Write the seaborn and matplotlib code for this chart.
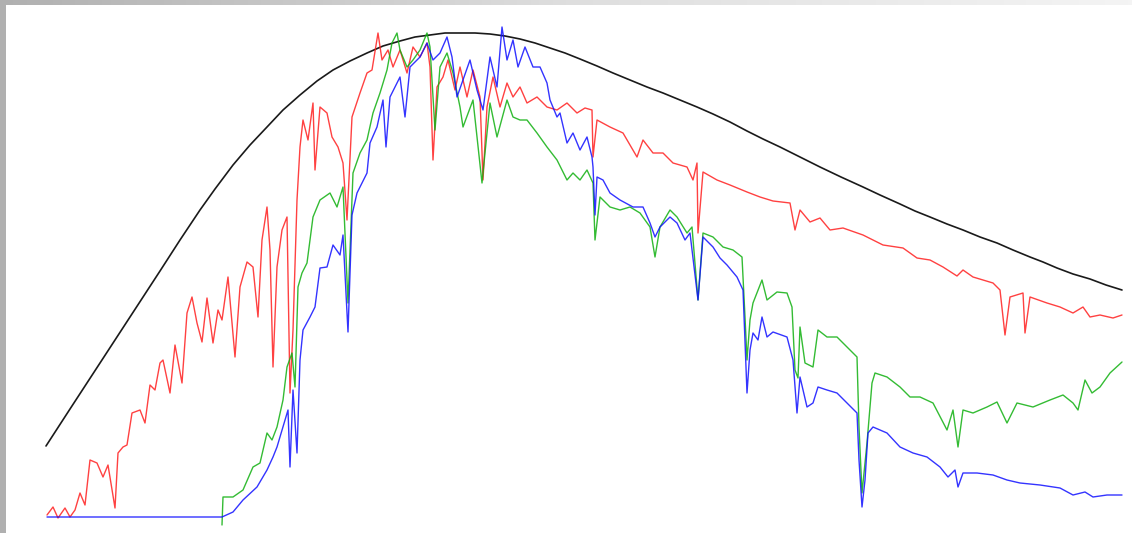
# Spectra vs. a smooth reference curve (black) - red, green and blue channels
import numpy as np
import pandas as pd
import matplotlib.pyplot as plt
import seaborn as sns
from matplotlib.colors import LinearSegmentedColormap

#%%
# Values (channel, intensity)
ref_x = [46, 70, 100, 130, 160, 180, 200, 215, 233, 250, 267, 283, 300, 317, 333, 350,
         367, 383, 400, 415, 430, 445, 460, 475, 490, 505, 520, 535, 550, 565, 580, 597,
         613, 630, 647, 663, 680, 697, 713, 730, 747, 763, 780, 800, 820, 841, 863, 880,
         900, 915, 930, 947, 963, 980, 997, 1013, 1030, 1043, 1057, 1073, 1090, 1106, 1122]
ref_y = [71, 108, 154, 200, 246, 277, 307, 328, 352, 372, 390, 407, 422, 436, 447, 456,
         464, 471, 476, 480, 482, 484, 484, 484, 483, 481, 478, 474, 469, 464, 458, 451,
         444, 437, 430, 424, 417, 410, 403, 395, 386, 378, 370, 360, 350, 340, 330, 322,
         313, 306, 300, 293, 287, 280, 274, 267, 260, 255, 249, 243, 238, 232, 227]

red_x = [47, 53, 58, 65, 70, 75, 80, 85, 90, 97, 103, 108, 115, 118, 123, 127, 132, 140,
         145, 150, 155, 160, 163, 170, 175, 182, 187, 192, 197, 202, 207, 213, 218, 222,
         228, 235, 240, 247, 253, 258, 262, 267, 270, 273, 277, 282, 287, 290, 293, 297,
         300, 303, 308, 313, 315, 320, 327, 332, 338, 343, 347, 352, 360, 367, 372, 378,
         382, 388, 393, 400, 407, 413, 420, 427, 430, 433, 437, 443, 448, 455, 460, 467,
         473, 480, 483, 487, 493, 500, 507, 513, 520, 527, 537, 547, 557, 567, 577, 585,
         592, 593, 597, 610, 623, 637, 643, 653, 663, 673, 687, 693, 697, 698, 703, 717,
         730, 747, 760, 773, 790, 795, 800, 810, 820, 830, 843, 863, 883, 903, 917, 930,
         943, 957, 963, 973, 993, 1000, 1005, 1010, 1023, 1025, 1030, 1047, 1060, 1073,
         1083, 1090, 1100, 1113, 1122]
red_y = [2, 10, -1, 9, 0, 7, 24, 12, 57, 54, 40, 52, 9, 64, 70, 72, 104, 107,
         94, 132, 127, 154, 157, 124, 172, 134, 204, 220, 194, 175, 219, 174, 207, 197,
         240, 160, 230, 255, 250, 200, 277, 310, 267, 150, 250, 287, 300, 124, 187, 317,
         370, 397, 377, 414, 347, 410, 404, 380, 370, 354, 297, 400, 424, 444, 447, 484,
         457, 467, 450, 467, 444, 470, 460, 474, 450, 357, 430, 440, 457, 427, 450, 420,
         447, 420, 337, 410, 440, 410, 434, 420, 430, 414, 420, 410, 407, 414, 404, 409,
         407, 360, 397, 390, 384, 360, 377, 364, 364, 354, 350, 337, 354, 284, 345, 337,
         332, 325, 320, 316, 314, 287, 307, 295, 299, 287, 289, 282, 272, 269, 259, 257,
         250, 241, 247, 240, 234, 227, 182, 220, 224, 184, 220, 214, 210, 204,
         210, 200, 202, 199, 202]

green_x = [222, 223, 233, 243, 253, 260, 267, 272, 277, 283, 287, 292, 295, 298, 302, 307,
           313, 320, 330, 337, 343, 348, 353, 360, 367, 373, 380, 387, 392, 397, 400, 407,
           413, 420, 427, 430, 435, 440, 447, 453, 460, 463, 473, 482, 490, 497, 507, 513,
           520, 527, 537, 547, 557, 567, 573, 580, 587, 593, 595, 600, 610, 620, 630, 640,
           650, 655, 660, 670, 677, 687, 692, 698, 703, 713, 723, 733, 742, 745, 747, 750,
           753, 762, 767, 777, 787, 792, 795, 798, 800, 805, 813, 818, 827, 837, 847, 857,
           859, 862, 867, 872, 875, 887, 900, 910, 920, 933, 947, 953, 958, 963, 973, 987,
           997, 1007, 1017, 1033, 1050, 1063, 1073, 1078, 1085, 1092, 1100, 1110, 1122]
green_y = [-8, 20, 20, 27, 50, 54, 84, 77, 90, 117, 150, 164, 130, 230, 244, 254,
           300, 317, 324, 310, 330, 214, 344, 364, 377, 404, 424, 447, 474, 484, 467, 450,
           457, 467, 484, 470, 387, 450, 464, 444, 410, 390, 417, 334, 414, 380, 417, 400,
           397, 397, 384, 370, 357, 337, 344, 337, 347, 334, 277, 320, 310, 307, 310, 304,
           290, 260, 290, 307, 300, 284, 290, 217, 284, 280, 270, 267, 260, 200, 157, 197,
           214, 237, 217, 225, 224, 210, 147, 139, 190, 154, 150, 187, 180, 180, 170, 160,
           90, 24, 74, 134, 144, 140, 130, 120, 120, 114, 87, 107, 70, 107, 104, 110,
           115, 94, 114, 110, 117, 122, 114, 107, 137, 124, 130, 144, 155]

blue_x = [47, 222, 233, 243, 257, 267, 273, 277, 283, 288, 290, 293, 297, 300, 303, 310,
          315, 320, 327, 333, 340, 343, 348, 352, 357, 367, 370, 377, 383, 386, 390, 400,
          405, 410, 420, 427, 433, 440, 447, 452, 457, 463, 470, 477, 483, 490, 497, 502,
          507, 513, 518, 525, 533, 540, 547, 550, 557, 560, 567, 573, 580, 587, 592, 593,
          595, 597, 603, 610, 620, 633, 643, 650, 655, 660, 670, 677, 685, 690, 698, 703,
          713, 720, 727, 737, 743, 747, 750, 753, 758, 762, 767, 773, 787, 793, 797, 800,
          807, 813, 818, 827, 837, 847, 857, 859, 862, 865, 868, 873, 887, 900, 913, 927,
          940, 948, 955, 958, 963, 977, 993, 1007, 1020, 1040, 1060, 1073, 1085, 1093,
          1107, 1122]
blue_y = [0, 0, 5, 17, 30, 47, 60, 70, 90, 107, 50, 127, 64, 157, 187, 200,
          210, 249, 250, 272, 262, 282, 185, 302, 324, 344, 374, 390, 417, 370, 420, 440,
          400, 450, 460, 474, 457, 464, 480, 460, 420, 437, 457, 427, 407, 460, 430, 490,
          457, 477, 450, 470, 450, 450, 434, 417, 400, 404, 374, 384, 367, 380, 360, 350,
          302, 340, 337, 324, 317, 310, 310, 294, 280, 290, 300, 294, 277, 284, 217, 280,
          270, 259, 252, 240, 227, 124, 167, 184, 177, 200, 180, 185, 180, 157, 104, 140,
          110, 114, 130, 127, 124, 114, 104, 57, 10, 37, 84, 90, 84, 70, 64, 60,
          50, 40, 47, 30, 44, 44, 42, 37, 34, 32, 29, 22, 25, 20,
          22, 22]

#%%
# Draw the chart
sns.set_style("white")
fig = plt.figure(figsize=(11.32, 5.33), dpi=100)
ax = fig.add_axes([0, 0, 1, 1])

sns.lineplot(x=ref_x, y=ref_y, color="#1a1a1a", linewidth=1.2, sort=False,
             estimator=None, ax=ax)
sns.lineplot(x=red_x, y=red_y, color="#ff2020", linewidth=1.0, alpha=0.85, sort=False,
             estimator=None, ax=ax)
sns.lineplot(x=green_x, y=green_y, color="#10b010", linewidth=1.0, alpha=0.85, sort=False,
             estimator=None, ax=ax)
sns.lineplot(x=blue_x, y=blue_y, color="#1010ff", linewidth=1.0, alpha=0.85, sort=False,
             estimator=None, ax=ax)

ax.set_xlim(0, 1132)
ax.set_ylim(-16, 517)
ax.set_axis_off()

#%%
# Grey frame on the left and top edges
left = fig.add_axes([0, 0, 6 / 1132, 1])
left.set_facecolor("#b0b0b0")
left.set_xticks([])
left.set_yticks([])
for s in left.spines.values():
    s.set_visible(False)

top = fig.add_axes([0, 1 - 5 / 533, 1, 5 / 533])
grey_cmap = LinearSegmentedColormap.from_list("frame", ["#b0b0b0", "#dedede", "#f4f4f4"])
top.imshow(np.linspace(0, 1, 256).reshape(1, -1), cmap=grey_cmap, aspect="auto")
top.set_axis_off()

fig.savefig("out.png", dpi=100, facecolor="white")
